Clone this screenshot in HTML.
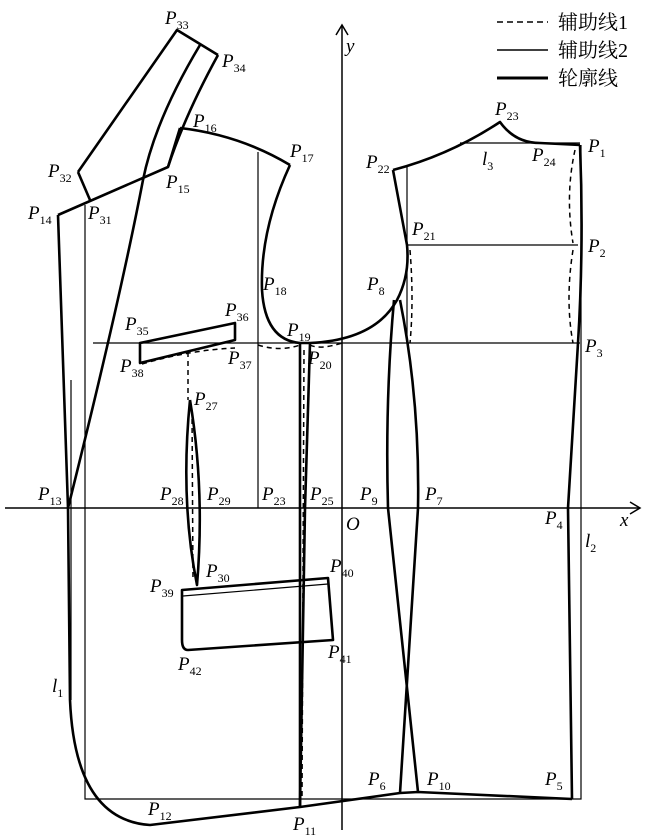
<!DOCTYPE html>
<html><head><meta charset="utf-8"><style>
html,body{margin:0;padding:0;background:#fff}
svg{display:block}
text{font-family:"Liberation Serif",serif;fill:#000}
.p{font-style:italic;font-size:19px}
.s{font-style:normal;font-size:12px}
.leg{font-family:"Liberation Serif","Noto Serif CJK SC",serif;font-size:20px}
</style></head><body>
<svg width="650" height="840" viewBox="0 0 650 840" xmlns="http://www.w3.org/2000/svg">
<g fill="none" stroke="#000">
<g stroke-width="1.5">
<line x1="5" y1="508" x2="640" y2="508"/><polyline points="630,502 640,508 630,514"/>
<line x1="342" y1="830" x2="342" y2="25"/><polyline points="336,35 342,25 348,35"/>
</g>
<g stroke-width="1.2">
<polyline points="85,205 85,799 581,799 581,145"/>
<line x1="71" y1="380" x2="71" y2="700"/>
<line x1="93" y1="343" x2="580" y2="343"/>
<line x1="407" y1="245" x2="578" y2="245"/>
<line x1="460" y1="143" x2="580" y2="143"/>
<line x1="407" y1="165" x2="407" y2="343"/>
<line x1="258" y1="152" x2="258" y2="508"/>
<line x1="183" y1="596" x2="328" y2="584"/>
</g>
<g stroke-width="1.5" stroke-dasharray="5,4">
<path d="M575,150 Q565,195 573,243"/>
<path d="M573,250 Q565,300 573,343"/>
<path d="M410,250 Q414,300 410,343"/>
<path d="M142,364 Q190,350 235,348"/>
<line x1="188" y1="352" x2="188" y2="400"/>
<path d="M258,345 Q280,352 300,345"/>
<path d="M310,345 Q320,350 342,343"/>
<path d="M304,350 L302,800"/>
<path d="M192,410 L193,580"/>
</g>
<g stroke-width="2.6" stroke-linejoin="round">
<polyline points="78,172 177,30 218,55"/>
<line x1="78" y1="172" x2="90" y2="200"/>
<path d="M218,55 Q185,115 168,167"/>
<path d="M200,45 Q155,120 143,180 Q120,300 68,508"/>
<polyline points="58,215 168,167 180,128"/>
<path d="M180,128 Q240,135 290,165"/>
<path d="M290,165 Q260,230 262,290 Q265,340 300,343 L310,343 Q375,340 397,300 Q410,275 407,245 L393,170"/>
<path d="M393,170 Q450,155 500,122 Q515,143 540,143 L580,145"/>
<path d="M580,145 Q584,245 578,343 L568,508 L572,799"/>
<path d="M572,799 L418,792 L400,793 L300,807 L150,825 Q75,820 70,700 L68,508 L58,215"/>
<path d="M394,300 Q385,400 388,508 L418,792"/>
<path d="M400,300 Q420,400 418,508 L400,793"/>
<path d="M300,343 L300,807"/>
<path d="M310,343 L305,508 L300,807"/>
<path d="M190,400 Q180,500 197,585 Q205,490 190,400"/>
<polygon points="140,343 235,323 235,340 140,363"/>
<path d="M182,590 L328,578 L333,640 L188,650 Q182,650 182,640 Z"/>
</g>
<line x1="497" y1="22" x2="548" y2="22" stroke-width="1.5" stroke-dasharray="6,4"/>
<line x1="497" y1="50" x2="548" y2="50" stroke-width="1.4"/>
<line x1="497" y1="78" x2="548" y2="78" stroke-width="3"/>
</g>
<text class="leg" x="558" y="29">辅助线1</text>
<text class="leg" x="558" y="57">辅助线2</text>
<text class="leg" x="558" y="85">轮廓线</text>
<text class="p" x="346" y="52">y</text>
<text class="p" x="620" y="526">x</text>
<text class="p" x="346" y="530">O</text>
<g class="p">
<text x="165" y="24">P<tspan class="s" dy="5">33</tspan></text>
<text x="222" y="67">P<tspan class="s" dy="5">34</tspan></text>
<text x="193" y="127">P<tspan class="s" dy="5">16</tspan></text>
<text x="290" y="157">P<tspan class="s" dy="5">17</tspan></text>
<text x="48" y="177">P<tspan class="s" dy="5">32</tspan></text>
<text x="166" y="188">P<tspan class="s" dy="5">15</tspan></text>
<text x="28" y="219">P<tspan class="s" dy="5">14</tspan></text>
<text x="88" y="219">P<tspan class="s" dy="5">31</tspan></text>
<text x="263" y="290">P<tspan class="s" dy="5">18</tspan></text>
<text x="125" y="330">P<tspan class="s" dy="5">35</tspan></text>
<text x="225" y="316">P<tspan class="s" dy="5">36</tspan></text>
<text x="287" y="336">P<tspan class="s" dy="5">19</tspan></text>
<text x="308" y="364">P<tspan class="s" dy="5">20</tspan></text>
<text x="228" y="364">P<tspan class="s" dy="5">37</tspan></text>
<text x="120" y="372">P<tspan class="s" dy="5">38</tspan></text>
<text x="194" y="405">P<tspan class="s" dy="5">27</tspan></text>
<text x="366" y="168">P<tspan class="s" dy="5">22</tspan></text>
<text x="495" y="115">P<tspan class="s" dy="5">23</tspan></text>
<text x="532" y="161">P<tspan class="s" dy="5">24</tspan></text>
<text x="588" y="152">P<tspan class="s" dy="5">1</tspan></text>
<text x="412" y="235">P<tspan class="s" dy="5">21</tspan></text>
<text x="588" y="252">P<tspan class="s" dy="5">2</tspan></text>
<text x="367" y="290">P<tspan class="s" dy="5">8</tspan></text>
<text x="585" y="352">P<tspan class="s" dy="5">3</tspan></text>
<text x="38" y="500">P<tspan class="s" dy="5">13</tspan></text>
<text x="160" y="500">P<tspan class="s" dy="5">28</tspan></text>
<text x="207" y="500">P<tspan class="s" dy="5">29</tspan></text>
<text x="262" y="500">P<tspan class="s" dy="5">23</tspan></text>
<text x="310" y="500">P<tspan class="s" dy="5">25</tspan></text>
<text x="360" y="500">P<tspan class="s" dy="5">9</tspan></text>
<text x="425" y="500">P<tspan class="s" dy="5">7</tspan></text>
<text x="545" y="524">P<tspan class="s" dy="5">4</tspan></text>
<text x="206" y="577">P<tspan class="s" dy="5">30</tspan></text>
<text x="150" y="592">P<tspan class="s" dy="5">39</tspan></text>
<text x="330" y="572">P<tspan class="s" dy="5">40</tspan></text>
<text x="328" y="658">P<tspan class="s" dy="5">41</tspan></text>
<text x="178" y="670">P<tspan class="s" dy="5">42</tspan></text>
<text x="368" y="785">P<tspan class="s" dy="5">6</tspan></text>
<text x="427" y="785">P<tspan class="s" dy="5">10</tspan></text>
<text x="545" y="785">P<tspan class="s" dy="5">5</tspan></text>
<text x="148" y="815">P<tspan class="s" dy="5">12</tspan></text>
<text x="293" y="830">P<tspan class="s" dy="5">11</tspan></text>
<text x="482" y="165">l<tspan class="s" dy="5">3</tspan></text>
<text x="585" y="547">l<tspan class="s" dy="5">2</tspan></text>
<text x="52" y="692">l<tspan class="s" dy="5">1</tspan></text>
</g>
</svg>
</body></html>
